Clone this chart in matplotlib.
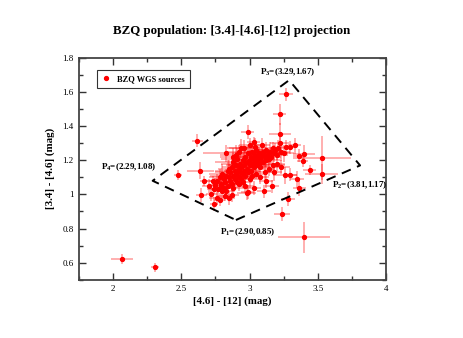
import matplotlib
matplotlib.use("Agg")
import matplotlib.pyplot as plt
from matplotlib.ticker import MultipleLocator, FormatStrFormatter

plt.rcParams['font.family'] = ['Liberation Serif', 'DejaVu Serif']
plt.rcParams['mathtext.fontset'] = 'custom'
plt.rcParams['mathtext.rm'] = 'Liberation Serif'
plt.rcParams['mathtext.bf'] = 'Liberation Serif:bold'

# ---- data: [4.6]-[12] colour (x), [3.4]-[4.6] colour (y) with errors ----
x_col = [2.066, 2.31, 3.40, 3.24, 3.28, 2.475, 2.617, 3.267, 3.22, 3.225,
         2.985, 3.03, 2.64, 2.667, 2.647, 2.74, 2.745, 2.83, 2.90, 2.85,
         2.80, 2.79, 2.936, 3.22, 3.33, 3.30, 3.397, 3.365, 3.39, 3.44,
         3.53, 3.53, 3.26, 3.30, 3.35, 3.365, 3.164, 3.107, 3.034, 2.985,
         2.875,
         2.76, 2.78, 2.79, 2.80, 2.81, 2.82, 2.83, 2.84, 2.84, 2.85,
         2.86, 2.86, 2.87, 2.87, 2.88, 2.88, 2.89, 2.89, 2.90, 2.90,
         2.91, 2.91, 2.92, 2.92, 2.93, 2.93, 2.94, 2.94, 2.95, 2.95,
         2.96, 2.96, 2.97, 2.97, 2.98, 2.98, 2.99, 2.99, 3.00, 3.00,
         3.01, 3.01, 3.02, 3.02, 3.03, 3.03, 3.04, 3.04, 3.05, 3.05,
         3.06, 3.06, 3.07, 3.07, 3.08, 3.08, 3.09, 3.10, 3.10, 3.11,
         3.12, 3.12, 3.13, 3.14, 3.15, 3.16, 3.17, 3.18, 3.19, 3.20,
         3.21, 3.23, 3.25, 3.27, 2.77, 2.81, 2.83, 2.88, 2.92, 2.95,
         2.97, 3.00, 3.02, 3.05, 3.08, 3.11, 3.14, 3.17, 3.20, 2.72,
         2.74, 2.76, 2.78, 2.82, 2.85, 2.88, 2.92, 2.96, 3.00, 3.04,
         3.09, 2.70, 2.73, 2.98, 3.12, 3.18, 3.23]
y_col = [0.622, 0.573, 0.749, 0.886, 0.975, 1.116, 1.316, 1.586, 1.469, 1.357,
         1.365, 1.306, 1.140, 1.077, 0.996, 0.944, 1.057, 1.240, 1.230, 0.980,
         1.018, 1.047, 1.273, 1.302, 1.288, 1.276, 1.239, 1.228, 1.198, 1.145,
         1.214, 1.120, 1.112, 1.116, 1.090, 1.038, 1.047, 1.018, 1.038, 1.014,
         0.998,
         1.08, 1.10, 1.06, 1.12, 1.09, 1.07, 1.11, 1.14, 1.05, 1.10,
         1.08, 1.13, 1.16, 1.06, 1.11, 1.19, 1.09, 1.14, 1.12, 1.17,
         1.07, 1.21, 1.10, 1.15, 1.13, 1.18, 1.09, 1.16, 1.12, 1.20,
         1.14, 1.17, 1.11, 1.22, 1.15, 1.19, 1.13, 1.24, 1.17, 1.20,
         1.14, 1.22, 1.18, 1.25, 1.16, 1.21, 1.19, 1.23, 1.17, 1.26,
         1.20, 1.22, 1.18, 1.24, 1.21, 1.16, 1.23, 1.19, 1.25, 1.22,
         1.20, 1.26, 1.23, 1.21, 1.25, 1.22, 1.27, 1.24, 1.26, 1.23,
         1.27, 1.25, 1.24, 1.28, 1.03, 1.04, 1.02, 1.04, 1.06, 1.07,
         1.05, 1.09, 1.11, 1.12, 1.10, 1.13, 1.15, 1.17, 1.18, 1.00,
         1.03, 0.98, 0.97, 0.99, 1.15, 1.22, 1.25, 1.27, 1.29, 1.28,
         1.29, 1.05, 1.08, 1.01, 1.08, 1.13, 1.16]
x_err = [0.08, 0.03, 0.19, 0.06, 0.05, 0.03, 0.04, 0.05, 0.05, 0.08,
         0.05, 0.05, 0.10, 0.03, 0.04, 0.03, 0.04, 0.17, 0.12, 0.04,
         0.04, 0.06, 0.10, 0.07, 0.05, 0.04, 0.08, 0.05, 0.04, 0.05,
         0.21, 0.12, 0.09, 0.05, 0.05, 0.05, 0.05, 0.05, 0.05, 0.05,
         0.05,
         0.06, 0.08, 0.05, 0.10, 0.07, 0.05, 0.12, 0.09, 0.06, 0.08,
         0.05, 0.11, 0.07, 0.06, 0.09, 0.13, 0.05, 0.08, 0.10, 0.07,
         0.06, 0.12, 0.08, 0.05, 0.09, 0.14, 0.06, 0.07, 0.10, 0.08,
         0.05, 0.12, 0.07, 0.09, 0.06, 0.11, 0.08, 0.10, 0.07, 0.13,
         0.05, 0.09, 0.08, 0.06, 0.12, 0.07, 0.10, 0.05, 0.09, 0.08,
         0.06, 0.11, 0.07, 0.09, 0.05, 0.08, 0.10, 0.06, 0.09, 0.07,
         0.12, 0.06, 0.08, 0.05, 0.09, 0.07, 0.06, 0.10, 0.05, 0.08,
         0.06, 0.07, 0.09, 0.06, 0.05, 0.07, 0.06, 0.08, 0.05, 0.07,
         0.06, 0.09, 0.05, 0.08, 0.06, 0.07, 0.05, 0.09, 0.06, 0.04,
         0.05, 0.06, 0.04, 0.05, 0.08, 0.10, 0.09, 0.11, 0.08, 0.07,
         0.06, 0.05, 0.06, 0.07, 0.05, 0.06, 0.07]
y_err = [0.030, 0.025, 0.090, 0.040, 0.040, 0.030, 0.040, 0.040, 0.060, 0.060,
         0.040, 0.030, 0.050, 0.030, 0.040, 0.040, 0.040, 0.050, 0.060, 0.040,
         0.040, 0.040, 0.050, 0.050, 0.040, 0.040, 0.050, 0.040, 0.040, 0.030,
         0.130, 0.060, 0.050, 0.040, 0.050, 0.050, 0.040, 0.040, 0.040, 0.040,
         0.040,
         0.04, 0.05, 0.03, 0.06, 0.04, 0.05, 0.04, 0.06, 0.03, 0.05,
         0.04, 0.05, 0.06, 0.04, 0.03, 0.05, 0.04, 0.06, 0.05, 0.04,
         0.03, 0.06, 0.05, 0.04, 0.05, 0.06, 0.04, 0.03, 0.05, 0.04,
         0.06, 0.05, 0.04, 0.05, 0.03, 0.06, 0.04, 0.05, 0.04, 0.06,
         0.05, 0.04, 0.03, 0.05, 0.06, 0.04, 0.05, 0.04, 0.03, 0.05,
         0.06, 0.04, 0.05, 0.04, 0.06, 0.03, 0.05, 0.04, 0.05, 0.06,
         0.04, 0.05, 0.03, 0.04, 0.06, 0.05, 0.04, 0.05, 0.04, 0.03,
         0.05, 0.04, 0.05, 0.04, 0.04, 0.03, 0.04, 0.05, 0.04, 0.03,
         0.04, 0.05, 0.04, 0.03, 0.04, 0.05, 0.04, 0.05, 0.04, 0.04,
         0.03, 0.04, 0.04, 0.03, 0.05, 0.05, 0.04, 0.05, 0.04, 0.05,
         0.04, 0.04, 0.03, 0.04, 0.04, 0.05, 0.04]

# Selection region vertices P1..P4 (closed polygon)
poly_names = ['P1', 'P2', 'P3', 'P4']
poly_x = [2.90, 3.81, 3.29, 2.29]
poly_y = [0.85, 1.17, 1.67, 1.08]

fig = plt.figure(figsize=(4.63, 3.38), dpi=100)
ax = fig.add_axes([0.1706, 0.1725, 0.6631, 0.6559])

ax.errorbar(x_col, y_col, xerr=x_err, yerr=y_err, fmt='none',
            ecolor=(1.0, 0.0, 0.0, 0.4), elinewidth=1.1, capsize=0, zorder=2)
ax.plot(x_col, y_col, 'o', color='red', ms=2.8, mec='red', zorder=3,
        label='BZQ WGS sources', linestyle='none')

ax.plot(poly_x + poly_x[:1], poly_y + poly_y[:1], color='black', lw=1.4,
        ls=(0, (5, 3.5)), zorder=4)

lab_kw = dict(fontsize=6.5, fontweight='bold', color='black')
ax.text(3.28, 1.715, r'P$_\mathbf{3}$=(3.29,1.67)', ha='center', va='center', **lab_kw)
ax.text(2.32, 1.157, r'P$_\mathbf{4}$=(2.29,1.08)', ha='right', va='center', **lab_kw)
ax.text(3.81, 1.056, r'P$_\mathbf{2}$=(3.81,1.17)', ha='center', va='center', **lab_kw)
ax.text(2.78, 0.779, r'P$_\mathbf{1}$=(2.90,0.85)', ha='left', va='center', **lab_kw)

ax.set_xlim(1.75, 4.0)
ax.set_ylim(0.5, 1.8)
ax.xaxis.set_major_locator(MultipleLocator(0.5))
ax.xaxis.set_minor_locator(MultipleLocator(0.25))
ax.yaxis.set_major_locator(MultipleLocator(0.2))
ax.yaxis.set_minor_locator(MultipleLocator(0.1))
ax.xaxis.set_major_formatter(FormatStrFormatter('%g'))
ax.yaxis.set_major_formatter(FormatStrFormatter('%g'))
ax.tick_params(which='both', direction='in', top=True, right=True,
               labelsize=6.5, width=1.0, colors='#333333', labelcolor='black')
ax.tick_params(which='major', length=5, pad=4)
ax.tick_params(which='minor', length=3)
for s in ax.spines.values():
    s.set_linewidth(1.3)
    s.set_color('#444444')

ax.set_xlabel('[4.6] - [12] (mag)', fontsize=7.8, fontweight='bold', labelpad=2)
ax.set_ylabel('[3.4] - [4.6] (mag)', fontsize=7.8, fontweight='bold', labelpad=5)
fig.suptitle('BZQ population: [3.4]-[4.6]-[12] projection', fontsize=9.3,
             fontweight='bold', y=0.925)

leg = ax.legend(loc='upper left', bbox_to_anchor=(0.045, 0.965),
                prop={'weight': 'bold', 'size': 6}, frameon=True, fancybox=False,
                edgecolor='black', handlelength=1.0, handletextpad=0.8,
                borderpad=0.6, markerscale=1.0)
leg.get_frame().set_linewidth(0.8)

fig.savefig('out.png', dpi=100)
